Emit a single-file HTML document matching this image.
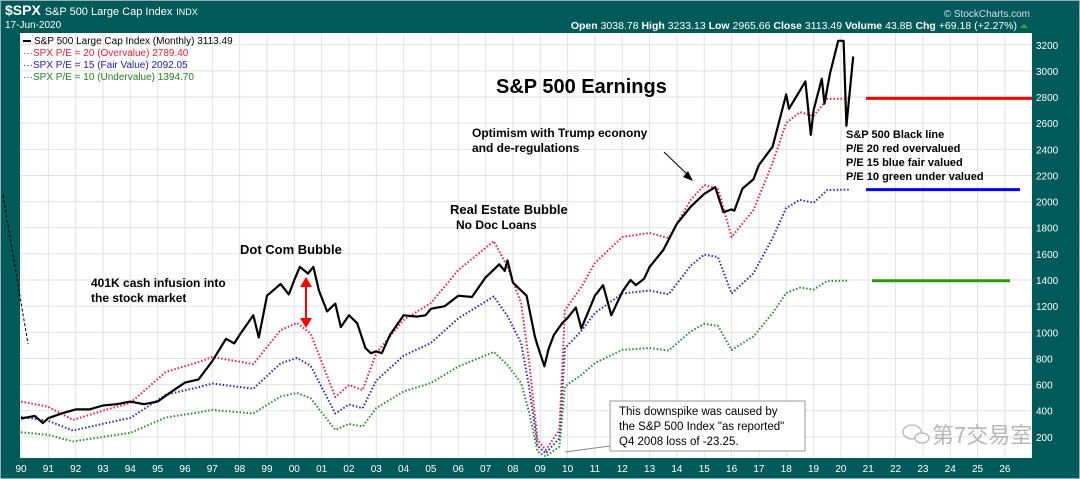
<!DOCTYPE html>
<html><head><meta charset="utf-8">
<style>
body{margin:0;width:1080px;height:479px;overflow:hidden;background:#005a5a;font-family:"Liberation Sans","Noto Sans CJK SC",sans-serif;}
svg{display:block}
</style></head>
<body>
<svg width="1080" height="479" id="chart">
<rect x="0" y="0" width="1080" height="479" fill="#005a5a"/>
<rect x="0.5" y="0.5" width="1079" height="478" fill="none" stroke="#9ab"/>
<text x="5" y="15" fill="#fff" font-size="14" font-weight="bold">$SPX <tspan font-size="11" font-weight="normal">S&amp;P 500 Large Cap Index</tspan> <tspan font-size="9" font-weight="normal">INDX</tspan></text>
<text x="5" y="28" fill="#fff" font-size="10">17-Jun-2020</text>
<text x="1030" y="17" fill="#dde" font-size="10" text-anchor="end">© StockCharts.com</text>
<text x="1017" y="29" fill="#fff" font-size="10.5" text-anchor="end"><tspan font-weight="bold">Open</tspan> 3038.78 <tspan font-weight="bold">High</tspan> 3233.13 <tspan font-weight="bold">Low</tspan> 2965.66 <tspan font-weight="bold">Close</tspan> 3113.49 <tspan font-weight="bold">Volume</tspan> 43.8B <tspan font-weight="bold">Chg</tspan> +69.18 (+2.27%)</text>
<polygon points="1020,28 1028,28 1024,24" fill="#3a3"/>
<rect x="20" y="33" width="1012" height="425" fill="#fff"/>
<g id="grid"></g>
<g id="yaxis"></g>
<g id="xaxis"></g>
<g id="series"></g>
<line x1="3" y1="195" x2="28" y2="344" stroke="#000" stroke-dasharray="3,2"/>
<g font-size="10">
<line x1="23" y1="41" x2="31" y2="41" stroke="#000" stroke-width="2"/>
<text x="34" y="44" fill="#000">S&amp;P 500 Large Cap Index (Monthly) 3113.49</text>
<text x="23" y="56" fill="#e0203c">···SPX P/E = 20 (Overvalue) 2789.40</text>
<text x="23" y="68" fill="#2020b0">···SPX P/E = 15 (Fair Value) 2092.05</text>
<text x="23" y="80" fill="#208020">···SPX P/E = 10 (Undervalue) 1394.70</text>
</g>
<g font-weight="bold" fill="#000">
<text x="496" y="93" font-size="20">S&amp;P 500 Earnings</text>
<text x="472" y="137" font-size="12">Optimism with Trump econony</text>
<text x="472" y="152" font-size="12">and de-regulations</text>
<text x="450" y="214" font-size="13">Real Estate Bubble</text>
<text x="456" y="229" font-size="12">No Doc Loans</text>
<text x="240" y="254" font-size="13">Dot Com Bubble</text>
<text x="91" y="287" font-size="12">401K cash infusion into</text>
<text x="91" y="302" font-size="12">the stock market</text>
<text x="846" y="138" font-size="11">S&amp;P 500 Black line</text>
<text x="846" y="152" font-size="11">P/E 20 red overvalued</text>
<text x="846" y="166" font-size="11">P/E 15 blue fair valued</text>
<text x="846" y="180" font-size="11">P/E 10 green under valued</text>
</g>
<line x1="664" y1="152" x2="690" y2="177" stroke="#000" stroke-width="1"/>
<polygon points="693,181 683,177 688,171" fill="#000"/>
<line x1="306" y1="285" x2="306" y2="320" stroke="#f00" stroke-width="2"/>
<polygon points="300,287 312,287 306,277" fill="#f00"/>
<polygon points="300,318 312,318 306,328" fill="#f00"/>
<line x1="610" y1="446" x2="565" y2="452" stroke="#888"/>
<rect x="610" y="401" width="195" height="50" fill="#fff" stroke="#999"/>
<g font-size="11.5" fill="#000">
<text x="619" y="415">This downspike was caused by</text>
<text x="619" y="430">the S&amp;P 500 Index "as reported"</text>
<text x="619" y="445">Q4 2008 loss of -23.25.</text>
</g>
<g opacity="0.7">
<ellipse cx="912" cy="432" rx="9" ry="7" fill="none" stroke="#999" stroke-width="1.3"/>
<ellipse cx="922" cy="438" rx="7" ry="5" fill="#fff" stroke="#999" stroke-width="1.3"/>
<text x="932" y="443" font-size="22" fill="#999" font-family="'Noto Sans CJK SC',sans-serif">第7交易室</text>
</g>
</svg>
<script>
const yTicks=[200,400,600,800,1000,1200,1400,1600,1800,2000,2200,2400,2600,2800,3000,3200];
const xYears=[90,91,92,93,94,95,96,97,98,99,"00","01","02","03","04","05","06","07","08","09",10,11,12,13,14,15,16,17,18,19,20,21,22,23,24,25,26];
const spxT=[1990,1990.5,1990.8,1991,1991.5,1992,1992.5,1993,1993.5,1994,1994.5,1995,1995.5,1996,1996.5,1997,1997.5,1997.8,1998,1998.5,1998.7,1999,1999.5,1999.8,2000,2000.2,2000.5,2000.7,2000.9,2001.2,2001.5,2001.7,2002,2002.3,2002.6,2002.8,2003,2003.2,2003.5,2004,2004.5,2004.8,2005,2005.5,2006,2006.5,2007,2007.5,2007.7,2007.8,2008,2008.3,2008.5,2008.8,2008.9,2009.15,2009.3,2009.5,2009.8,2010,2010.3,2010.5,2010.8,2011,2011.3,2011.6,2012,2012.3,2012.5,2012.8,2013,2013.5,2014,2014.5,2015,2015.4,2015.7,2016,2016.1,2016.4,2016.8,2017,2017.5,2018,2018.1,2018.7,2018.9,2019,2019.3,2019.4,2019.6,2019.9,2020.1,2020.2,2020.45];
const spxV=[340,360,305,343,380,410,410,440,450,470,450,470,545,615,640,780,950,915,980,1130,960,1280,1370,1290,1400,1500,1450,1500,1320,1160,1220,1040,1130,1070,880,840,855,840,980,1130,1120,1130,1180,1200,1280,1270,1420,1520,1470,1550,1380,1320,1280,970,900,740,870,980,1070,1110,1190,1030,1180,1280,1360,1130,1310,1400,1360,1410,1500,1630,1830,1960,2060,2110,1920,1940,1930,2100,2170,2280,2420,2820,2710,2920,2510,2700,2940,2750,2980,3230,3230,2580,3110];
const peT=[1990,1991,1991.9,1993,1994,1995.3,1996.5,1997,1998.5,1999.5,2000.1,2000.6,2001.5,2002,2002.5,2003,2004,2005,2006,2007.3,2007.8,2008.3,2008.6,2008.9,2009.2,2009.7,2009.9,2010.5,2011,2012,2013,2013.7,2014.5,2015,2015.5,2016,2016.8,2017.5,2018,2018.5,2019,2019.5,2020.3];
const pe20=[470,430,330,400,460,696,773,811,757,1017,1071,990,505,597,558,841,1094,1224,1476,1698,1500,1224,765,176,100,252,1170,1346,1530,1729,1760,1721,2012,2127,2100,1729,1935,2295,2601,2685,2654,2785,2789];
const pe15=[353,323,248,300,345,522,580,608,568,763,803,743,379,448,419,631,821,918,1107,1274,1125,918,574,132,75,189,878,1010,1148,1297,1320,1291,1509,1595,1575,1297,1451,1721,1951,2014,1991,2089,2092];
const pe10=[235,215,165,200,230,348,387,406,379,509,536,495,253,299,279,421,547,612,738,849,750,612,383,88,50,126,585,673,765,865,880,861,1006,1064,1050,865,968,1148,1301,1343,1327,1393,1395];
const refLevels=[2789.40,2092.05,1394.70];
const NS="http://www.w3.org/2000/svg";
const X=t=>21+(t-1990)*27.33;
const Y=v=>463-v/200*26.14;
function mk(tag,attrs,parent){const e=document.createElementNS(NS,tag);for(const k in attrs)e.setAttribute(k,attrs[k]);parent.appendChild(e);return e;}
const grid=document.getElementById('grid'),ya=document.getElementById('yaxis'),xa=document.getElementById('xaxis'),ser=document.getElementById('series');
yTicks.forEach(v=>{
 const l=mk('line',{x1:20,x2:1032,y1:Y(v),y2:Y(v),stroke:'#e2e2e2'},grid);
 
 
 const t=mk('text',{x:1036,y:Y(v)+4,fill:'#fff','font-size':10},ya);
 t.textContent=v;
 
 
});
xYears.forEach((yl,i)=>{
 const x=X(1990+i);
 const l=mk('line',{x1:x,x2:x,y1:33,y2:458,stroke:'#e2e2e2'},grid);
 
 
 const t=mk('text',{x:x,y:472,fill:'#fff','font-size':10,'text-anchor':'middle'},xa);
 t.textContent=yl;
 
 
});
function line(ts,vs,color,w,dash,name){
 const d=ts.map((t,i)=>(i?'L':'M')+X(t).toFixed(1)+','+Y(vs[i]).toFixed(1)).join('');
 const p=mk('path',{d:d,fill:'none',stroke:color,'stroke-width':w,'stroke-linejoin':'round'},ser);
 if(dash)p.setAttribute('stroke-dasharray',dash);
 
 
}
line(peT,pe10,'#2a8a2a',2,'1.5,2','pe10-line');
line(peT,pe15,'#2a2ab0',2,'1.5,2','pe15-line');
line(peT,pe20,'#e0203c',2,'1.5,2','pe20-line');
line(spxT,spxV,'#000',2.2,null,'spx-line');
const refColors=['#f00','#00f','#2a9a10'];
const refX1=[866,866,872],refX2=[1032,1020,1010];
refLevels.forEach((v,i)=>{
 const l=mk('line',{x1:refX1[i],x2:refX2[i],y1:Y(v),y2:Y(v),stroke:refColors[i],'stroke-width':3},ser);
 
 
});
</script>
</body></html>
